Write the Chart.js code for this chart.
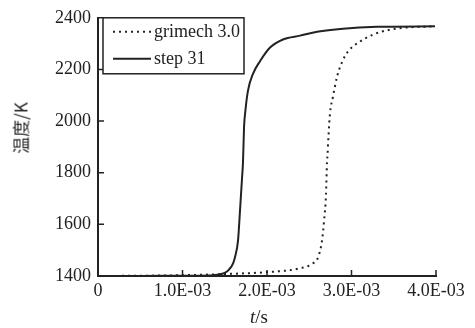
<!DOCTYPE html>
<html>
<head>
<meta charset="utf-8">
<script src="https://cdn.jsdelivr.net/npm/chart.js@4"></script>
<style>
  body { margin: 0; background: #fff; }
  #wrap { position: relative; width: 475px; height: 328px; }
  #xtitle { position: absolute; left: 250px; top: 306px; font: 19px "Liberation Serif", serif; color: #222; }
  #ytitle { position: absolute; left: 20px; top: 128px; transform: translate(-50%, -50%) rotate(-90deg);
            white-space: nowrap; font: 17px "Noto Sans CJK SC", sans-serif; color: #222; }
</style>
</head>
<body>
<div id="wrap">
  <canvas id="myChart" width="475" height="328"></canvas>
  <div id="xtitle"><i>t</i>/s</div>
  <div id="ytitle">温度/K</div>
</div>
<script>
// tick labels
let xTickLabels = ["0", "1.0E-03", "2.0E-03", "3.0E-03", "4.0E-03"];
let yTicks = [1400, 1600, 1800, 2000, 2200, 2400];

// grimech 3.0 (dotted)
let grimechTime = [0, 0.5e-3, 1.0e-3, 1.527e-3, 2.0e-3, 2.39e-3, 2.544e-3, 2.604e-3, 2.651e-3, 2.675e-3, 2.698e-3, 2.71e-3, 2.716e-3, 2.728e-3, 2.746e-3, 2.781e-3, 2.828e-3, 2.888e-3, 2.959e-3, 3.101e-3, 3.254e-3, 3.456e-3, 3.633e-3, 3.988e-3];
let grimechTemp = [1400, 1401, 1403, 1408, 1415, 1430, 1449, 1472, 1537, 1613, 1715, 1841, 1867, 1943, 2031, 2095, 2171, 2228, 2270, 2308, 2335, 2354, 2362, 2367];

// step 31 (solid)
let stepTime = [0, 0.5e-3, 1.0e-3, 1.325e-3, 1.408e-3, 1.5e-3, 1.55e-3, 1.6e-3, 1.62e-3, 1.657e-3, 1.68e-3, 1.704e-3, 1.716e-3, 1.728e-3, 1.745e-3, 1.775e-3, 1.834e-3, 1.917e-3, 2.036e-3, 2.189e-3, 2.391e-3, 2.592e-3, 2.899e-3, 3.302e-3, 3.988e-3];
let stepTemp = [1400, 1400, 1401, 1402, 1405, 1412, 1425, 1450, 1472, 1537, 1651, 1776, 1841, 1974, 2042, 2118, 2183, 2232, 2285, 2316, 2331, 2346, 2358, 2365, 2367];

function toPoints(xs, ys) {
  return xs.map((x, i) => ({ x: x, y: ys[i] }));
}

let ink = "#222";
let serif = "'Liberation Serif', 'Times New Roman', serif";

// ticks drawn inward, like the original figure
let innerTicks = {
  id: "innerTicks",
  afterDraw(chart) {
    let ctx = chart.ctx;
    let a = chart.chartArea;
    let xs = chart.scales.x, ys = chart.scales.y;
    ctx.save();
    ctx.strokeStyle = ink;
    ctx.lineWidth = 1.5;
    ctx.beginPath();
    xs.ticks.forEach((t) => {
      let px = xs.getPixelForValue(t.value);
      ctx.moveTo(px, a.bottom);
      ctx.lineTo(px, a.bottom - 6);
    });
    ys.ticks.forEach((t) => {
      let py = ys.getPixelForValue(t.value);
      ctx.moveTo(a.left, py);
      ctx.lineTo(a.left + 6, py);
    });
    ctx.stroke();
    ctx.restore();
  }
};

// boxed legend in the top-left corner
let boxLegend = {
  id: "boxLegend",
  afterDraw(chart) {
    let ctx = chart.ctx;
    let a = chart.chartArea;
    let x0 = a.left + 5, y0 = a.top;
    ctx.save();
    ctx.fillStyle = "#fff";
    ctx.fillRect(x0, y0, 141, 56);
    ctx.strokeStyle = ink;
    ctx.lineWidth = 1.5;
    ctx.strokeRect(x0, y0, 141, 56);
    chart.data.datasets.forEach((ds, i) => {
      let cy = y0 + 14 + i * 27;
      ctx.beginPath();
      ctx.setLineDash(ds.borderDash || []);
      ctx.lineWidth = ds.borderWidth;
      ctx.moveTo(x0 + 10, cy);
      ctx.lineTo(x0 + 48, cy);
      ctx.stroke();
      ctx.setLineDash([]);
      ctx.fillStyle = ink;
      ctx.font = "18px " + serif;
      ctx.textBaseline = "middle";
      ctx.fillText(ds.label, x0 + 51, cy);
    });
    ctx.restore();
  }
};

new Chart("myChart", {
  type: "line",
  data: {
    datasets: [
      {
        label: "grimech 3.0",
        data: toPoints(grimechTime, grimechTemp),
        borderColor: ink,
        borderWidth: 2,
        borderDash: [2, 4],
        pointRadius: 0,
        cubicInterpolationMode: "monotone",
      },
      {
        label: "step 31",
        data: toPoints(stepTime, stepTemp),
        borderColor: ink,
        borderWidth: 2,
        pointRadius: 0,
        cubicInterpolationMode: "monotone",
      },
    ],
  },
  options: {
    responsive: false,
    animation: false,
    layout: { padding: { top: 13, right: 39, left: 0, bottom: 0 } },
    plugins: { legend: { display: false }, tooltip: { enabled: false } },
    scales: {
      x: {
        type: "linear",
        min: 0,
        max: 0.004,
        afterFit: (s) => { s.height = 52; },
        afterBuildTicks: (s) => { s.ticks = xTickLabels.map((l, i) => ({ value: i * 0.001 })); },
        ticks: {
          color: ink,
          padding: 4,
          maxRotation: 0,
          font: { family: serif, size: 18 },
          callback: (v, i) => xTickLabels[i],
        },
        grid: { drawOnChartArea: false, drawTicks: false },
        border: { display: true, color: ink, width: 2 },
      },
      y: {
        min: 1400,
        max: 2400,
        afterFit: (s) => { s.width = 98; },
        afterBuildTicks: (s) => { s.ticks = yTicks.map((v) => ({ value: v })); },
        ticks: {
          color: ink,
          padding: 7,
          font: { family: serif, size: 18 },
          callback: (v) => String(v),
        },
        grid: { drawOnChartArea: false, drawTicks: false },
        border: { display: true, color: ink, width: 2 },
      },
    },
  },
  plugins: [innerTicks, boxLegend],
});
</script>
</body>
</html>
